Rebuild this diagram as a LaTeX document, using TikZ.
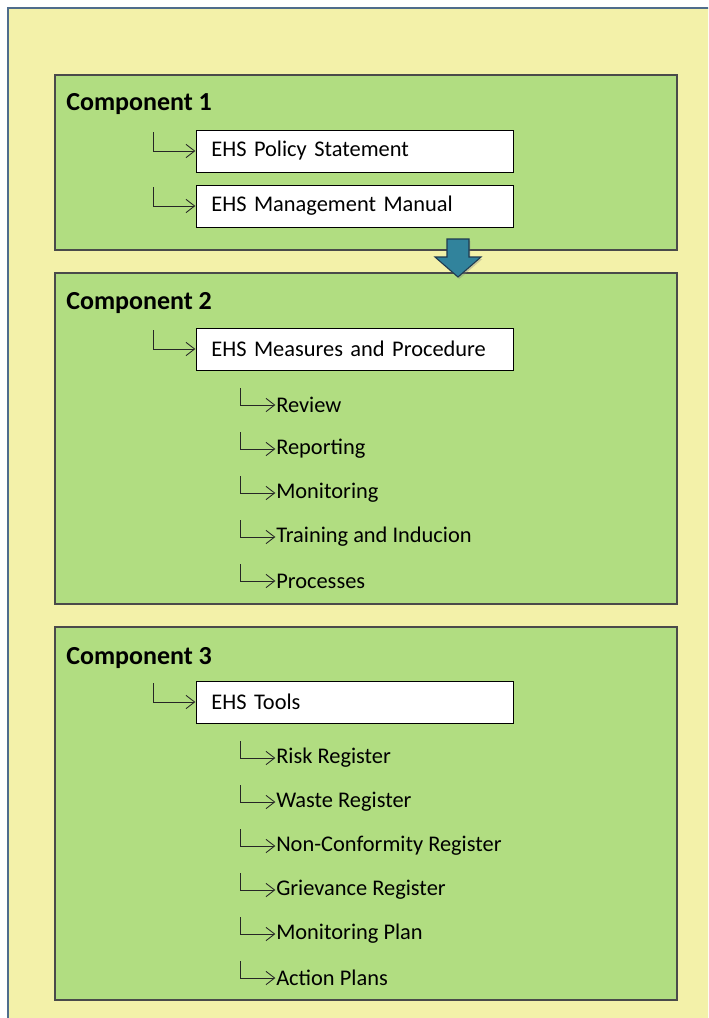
\documentclass[tikz,border=0pt]{standalone}
\usepackage{fontspec}
\setmainfont{Carlito}
\usepackage{tikz}
\usetikzlibrary{arrows.meta, positioning, fit, shadows}
\definecolor{pagebg}{HTML}{F3F1A9}
\definecolor{pageframe}{HTML}{4F6D8C}
\definecolor{compfill}{HTML}{B1DD81}
\definecolor{compframe}{HTML}{4A4A4A}
\definecolor{flowfill}{HTML}{31839C}
\definecolor{flowframe}{HTML}{1F3A50}

\tikzset{
  compbox/.style={draw=compframe, fill=compfill, line width=0.8pt, inner sep=0pt},
  comptitle/.style={font=\fontsize{19.5}{22}\selectfont\bfseries, inner sep=0pt},
  docbox/.style={draw=black, fill=white, line width=0.6pt, inner xsep=11.25pt,
                 text width=215.25pt, minimum height=31.5pt, align=left,
                 font=\fontsize{16.8}{19}\selectfont},
  itemtext/.style={font=\fontsize{16.8}{19}\selectfont, inner sep=0pt},
  elbow/.style={draw=black!85, line width=0.65pt, shorten >=0.5pt,
                -{Straight Barb[length=6.5pt,width=10pt]}},
}

\begin{document}
\begin{tikzpicture}[x=0.75pt, y=-0.75pt]
  \clip (0,0) rectangle (708,1018);
  \fill[white] (0,0) rectangle (708,1018);
  \draw[pageframe, fill=pagebg, line width=0.8pt] (8,8) rectangle (740,1050);

  % the three component panels
  \node[compbox, fit={(55,75) (677,250)}] (c1) {};
  \node[compbox, fit={(55,273) (677,604)}] (c2) {};
  \node[compbox, fit={(55,627) (677,1000)}] (c3) {};

  \node[comptitle, anchor=west] (t1) at (66,104) {Component 1};
  \node[comptitle, anchor=west] (t2) at (66,303) {Component 2};
  \node[comptitle, anchor=west] (t3) at (66,658) {Component 3};

  % documents
  \node[docbox, anchor=west] (pol) at (196,151) {EHS Policy Statement};
  \node[docbox, anchor=west] (man) at (196,206) {EHS Management Manual};
  \node[docbox, anchor=west] (mea) at (196,349) {EHS Measures and Procedure};
  \node[docbox, anchor=west] (too) at (196,702) {EHS Tools};

  \foreach \n/\y in {pol/151, man/206, mea/349, too/702} {
    \coordinate (\n0) at (153,\y-19);
    \draw[elbow] (\n0) |- (\n.west);
  }

  % sub items of component 2
  \foreach \n/\y/\lbl in {rev/405/Review, rep/449/Reporting, mon/493/Monitoring,
                          tra/537/Training and Inducion, pro/581/Processes} {
    \node[itemtext, anchor=west] (\n) at (276,\y) {\lbl};
    \coordinate (\n0) at (240,\y-17);
    \draw[elbow] (\n0) |- (\n.west);
  }

  % sub items of component 3
  \foreach \n/\y/\lbl in {rsk/758/Risk Register, wst/802/Waste Register,
                          ncr/846/Non-Conformity Register, grv/890/Grievance Register,
                          mpl/934/Monitoring Plan, act/978/Action Plans} {
    \node[itemtext, anchor=west] (\n) at (276,\y) {\lbl};
    \coordinate (\n0) at (240,\y-17);
    \draw[elbow] (\n0) |- (\n.west);
  }

  % flow arrow between panels 1 and 2
  \filldraw[fill=flowfill, draw=flowframe, line width=0.8pt, line join=miter,
            drop shadow={opacity=0.35, shadow xshift=1pt, shadow yshift=-1.5pt}]
    (447,239) -- (469,239) -- (469,257) -- (481,257) -- (458,277)
    -- (435,257) -- (447,257) -- cycle;
\end{tikzpicture}
\end{document}
